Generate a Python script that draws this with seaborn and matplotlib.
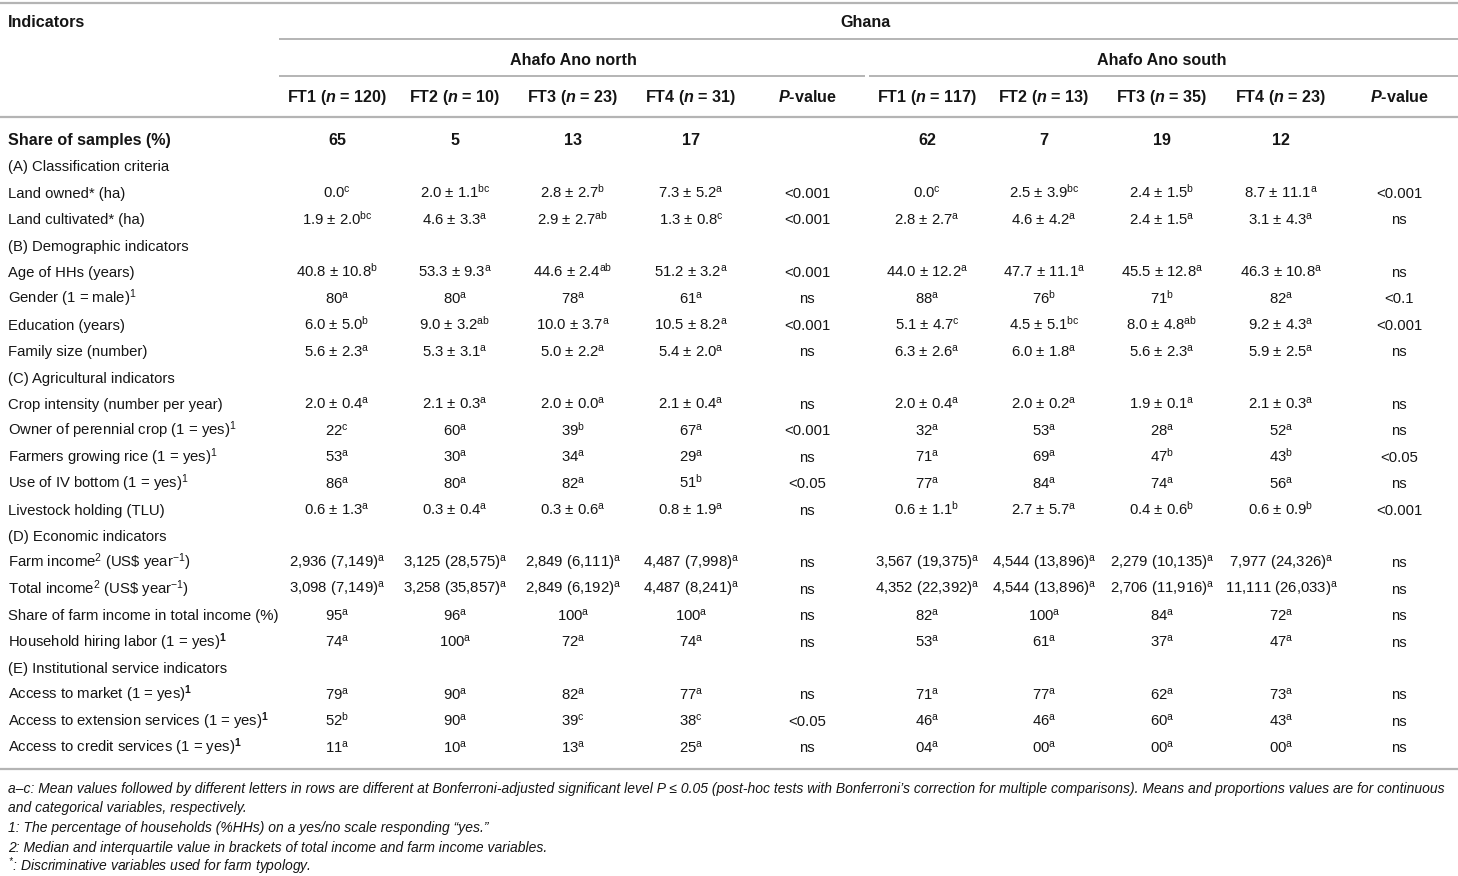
import matplotlib
matplotlib.use('Agg')
import matplotlib.pyplot as plt
import seaborn as sns

# Row labels of the table (mathtext is used for the superscripts)
indicators = [
    'Share of samples (%)',
    '(A) Classification criteria',
    'Land owned* (ha)',
    'Land cultivated* (ha)',
    '(B) Demographic indicators',
    'Age of HHs (years)',
    r'Gender (1 = male)$^{1}$',
    'Education (years)',
    'Family size (number)',
    '(C) Agricultural indicators',
    'Crop intensity (number per year)',
    r'Owner of perennial crop (1 = yes)$^{1}$',
    r'Farmers growing rice (1 = yes)$^{1}$',
    r'Use of IV bottom (1 = yes)$^{1}$',
    'Livestock holding (TLU)',
    '(D) Economic indicators',
    r'Farm income$^{2}$ (US\$ year$^{-1}$)',
    r'Total income$^{2}$ (US\$ year$^{-1}$)',
    'Share of farm income in total income (%)',
    r'Household hiring labor (1 = yes)$^{\mathbf{1}}$',
    '(E) Institutional service indicators',
    r'Access to market (1 = yes)$^{\mathbf{1}}$',
    r'Access to extension services (1 = yes)$^{\mathbf{1}}$',
    r'Access to credit services (1 = yes)$^{\mathbf{1}}$',
]
section_rows = [1, 4, 9, 15, 20]

country = 'Ghana'
districts = ['Ahafo Ano north', 'Ahafo Ano south']
north_headers = ['FT1 ($\\mathit{n}$ = 120)', 'FT2 ($\\mathit{n}$ = 10)',
                 'FT3 ($\\mathit{n}$ = 23)', 'FT4 ($\\mathit{n}$ = 31)', '$\\mathit{P}$-value']
south_headers = ['FT1 ($\\mathit{n}$ = 117)', 'FT2 ($\\mathit{n}$ = 13)',
                 'FT3 ($\\mathit{n}$ = 35)', 'FT4 ($\\mathit{n}$ = 23)', '$\\mathit{P}$-value']

# Ahafo Ano north
north_ft1 = ['65', '', '0.0', '1.9 ± 2.0', '', '40.8 ± 10.8', '80', '6.0 ± 5.0', '5.6 ± 2.3', '',
             '2.0 ± 0.4', '22', '53', '86', '0.6 ± 1.3', '', '2,936 (7,149)', '3,098 (7,149)', '95', '74',
             '', '79', '52', '11']
north_ft1_sig = ['', '', 'c', 'bc', '', 'b', 'a', 'b', 'a', '', 'a', 'c', 'a', 'a', 'a', '', 'a', 'a',
                 'a', 'a', '', 'a', 'b', 'a']
north_ft2 = ['5', '', '2.0 ± 1.1', '4.6 ± 3.3', '', '53.3 ± 9.3', '80', '9.0 ± 3.2', '5.3 ± 3.1', '',
             '2.1 ± 0.3', '60', '30', '80', '0.3 ± 0.4', '', '3,125 (28,575)', '3,258 (35,857)', '96', '100',
             '', '90', '90', '10']
north_ft2_sig = ['', '', 'bc', 'a', '', 'a', 'a', 'ab', 'a', '', 'a', 'a', 'a', 'a', 'a', '', 'a', 'a',
                 'a', 'a', '', 'a', 'a', 'a']
north_ft3 = ['13', '', '2.8 ± 2.7', '2.9 ± 2.7', '', '44.6 ± 2.4', '78', '10.0 ± 3.7', '5.0 ± 2.2', '',
             '2.0 ± 0.0', '39', '34', '82', '0.3 ± 0.6', '', '2,849 (6,111)', '2,849 (6,192)', '100', '72',
             '', '82', '39', '13']
north_ft3_sig = ['', '', 'b', 'ab', '', 'ab', 'a', 'a', 'a', '', 'a', 'b', 'a', 'a', 'a', '', 'a', 'a',
                 'a', 'a', '', 'a', 'c', 'a']
north_ft4 = ['17', '', '7.3 ± 5.2', '1.3 ± 0.8', '', '51.2 ± 3.2', '61', '10.5 ± 8.2', '5.4 ± 2.0', '',
             '2.1 ± 0.4', '67', '29', '51', '0.8 ± 1.9', '', '4,487 (7,998)', '4,487 (8,241)', '100', '74',
             '', '77', '38', '25']
north_ft4_sig = ['', '', 'a', 'c', '', 'a', 'a', 'a', 'a', '', 'a', 'a', 'a', 'b', 'a', '', 'a', 'a',
                 'a', 'a', '', 'a', 'c', 'a']
north_p = ['', '', '<0.001', '<0.001', '', '<0.001', 'ns', '<0.001', 'ns', '', 'ns', '<0.001', 'ns',
           '<0.05', 'ns', '', 'ns', 'ns', 'ns', 'ns', '', 'ns', '<0.05', 'ns']

# Ahafo Ano south
south_ft1 = ['62', '', '0.0', '2.8 ± 2.7', '', '44.0 ± 12.2', '88', '5.1 ± 4.7', '6.3 ± 2.6', '',
             '2.0 ± 0.4', '32', '71', '77', '0.6 ± 1.1', '', '3,567 (19,375)', '4,352 (22,392)', '82', '53',
             '', '71', '46', '04']
south_ft1_sig = ['', '', 'c', 'a', '', 'a', 'a', 'c', 'a', '', 'a', 'a', 'a', 'a', 'b', '', 'a', 'a',
                 'a', 'a', '', 'a', 'a', 'a']
south_ft2 = ['7', '', '2.5 ± 3.9', '4.6 ± 4.2', '', '47.7 ± 11.1', '76', '4.5 ± 5.1', '6.0 ± 1.8', '',
             '2.0 ± 0.2', '53', '69', '84', '2.7 ± 5.7', '', '4,544 (13,896)', '4,544 (13,896)', '100', '61',
             '', '77', '46', '00']
south_ft2_sig = ['', '', 'bc', 'a', '', 'a', 'b', 'bc', 'a', '', 'a', 'a', 'a', 'a', 'a', '', 'a', 'a',
                 'a', 'a', '', 'a', 'a', 'a']
south_ft3 = ['19', '', '2.4 ± 1.5', '2.4 ± 1.5', '', '45.5 ± 12.8', '71', '8.0 ± 4.8', '5.6 ± 2.3', '',
             '1.9 ± 0.1', '28', '47', '74', '0.4 ± 0.6', '', '2,279 (10,135)', '2,706 (11,916)', '84', '37',
             '', '62', '60', '00']
south_ft3_sig = ['', '', 'b', 'a', '', 'a', 'b', 'ab', 'a', '', 'a', 'a', 'b', 'a', 'b', '', 'a', 'a',
                 'a', 'a', '', 'a', 'a', 'a']
south_ft4 = ['12', '', '8.7 ± 11.1', '3.1 ± 4.3', '', '46.3 ± 10.8', '82', '9.2 ± 4.3', '5.9 ± 2.5', '',
             '2.1 ± 0.3', '52', '43', '56', '0.6 ± 0.9', '', '7,977 (24,326)', '11,111 (26,033)', '72', '47',
             '', '73', '43', '00']
south_ft4_sig = ['', '', 'a', 'a', '', 'a', 'a', 'a', 'a', '', 'a', 'a', 'b', 'a', 'b', '', 'a', 'a',
                 'a', 'a', '', 'a', 'a', 'a']
south_p = ['', '', '<0.001', 'ns', '', 'ns', '<0.1', '<0.001', 'ns', '', 'ns', 'ns', '<0.05', 'ns',
           '<0.001', '', 'ns', 'ns', 'ns', 'ns', '', 'ns', 'ns', 'ns']

footnotes = [
    'a–c: Mean values followed by different letters in rows are different at Bonferroni-adjusted '
    'significant level P ≤ 0.05 (post-hoc tests with Bonferroni’s correction for multiple comparisons). '
    'Means and proportions values are for continuous',
    'and categorical variables, respectively.',
    '1: The percentage of households (%HHs) on a yes/no scale responding “yes.”',
    '2: Median and interquartile value in brackets of total income and farm income variables.',
    r'$^{*}$: Discriminative variables used for farm typology.',
]

sns.set_style('white')
plt.rcParams['font.family'] = ['Liberation Sans', 'DejaVu Sans']
plt.rcParams['mathtext.fontset'] = 'custom'
plt.rcParams['mathtext.default'] = 'regular'
plt.rcParams['mathtext.rm'] = 'Liberation Sans'
plt.rcParams['mathtext.bf'] = 'Liberation Sans:bold'
plt.rcParams['mathtext.it'] = 'Liberation Sans:italic:bold'

ink = '#151515'
rule = '#b4b4b4'
body_size = 10.7
head_size = 11.6

fig = plt.figure(figsize=(14.58, 8.76), dpi=100)
ax = fig.add_axes([0, 0, 1, 1])
ax.set_xlim(0, 1458)
ax.set_ylim(876, 0)
ax.axis('off')

# horizontal rules
ax.hlines(3, 0, 1458, color=rule, lw=1.6)
ax.hlines(39, 279, 1458, color=rule, lw=1.4)
ax.hlines(76, 279, 865, color=rule, lw=1.4)
ax.hlines(76, 869, 1458, color=rule, lw=1.4)
ax.hlines(117, 0, 1458, color=rule, lw=1.6)
ax.hlines(769, 0, 1458, color=rule, lw=1.6)

north_x = [337, 455, 573, 691, 807]
south_x = [927, 1044, 1162, 1281, 1399]
base = 5  # offset from text centre to baseline

# header
ax.text(8, 22 + base, 'Indicators', fontsize=head_size, fontweight='bold', color=ink, va='baseline')
ax.text(866, 22 + base, country, fontsize=head_size, fontweight='bold', color=ink, ha='center', va='baseline')
ax.text(573, 60 + base, districts[0], fontsize=head_size, fontweight='bold', color=ink, ha='center', va='baseline')
ax.text(1162, 60 + base, districts[1], fontsize=head_size, fontweight='bold', color=ink, ha='center', va='baseline')
for x, h in zip(north_x + south_x, north_headers + south_headers):
    ax.text(x, 97 + base, h, fontsize=head_size, fontweight='bold', color=ink, ha='center', va='baseline')

north_cols = [(north_ft1, north_ft1_sig), (north_ft2, north_ft2_sig),
              (north_ft3, north_ft3_sig), (north_ft4, north_ft4_sig)]
south_cols = [(south_ft1, south_ft1_sig), (south_ft2, south_ft2_sig),
              (south_ft3, south_ft3_sig), (south_ft4, south_ft4_sig)]

row_h = 26.4
for i, label in enumerate(indicators):
    y = 140 + i * row_h + base
    weight = 'bold' if i == 0 else 'normal'
    size = head_size if i == 0 else body_size
    ax.text(8, y, label, fontsize=size, fontweight=weight, color=ink, va='baseline')
    if i in section_rows:
        continue
    for xs, cols, pvals in [(north_x, north_cols, north_p), (south_x, south_cols, south_p)]:
        for x, (vals, sig) in zip(xs[:4], cols):
            txt = vals[i]
            if sig[i]:
                txt = txt + '$^{' + sig[i] + '}$'
            ax.text(x, y, txt, fontsize=size, fontweight=weight, color=ink, ha='center', va='baseline')
        ax.text(xs[4], y, pvals[i], fontsize=body_size, color=ink, ha='center', va='baseline')

# footnotes
for j, note in enumerate(footnotes):
    ax.text(8, 788 + j * 19.7 + 4.5, note, fontsize=10.0, style='italic', color=ink, va='baseline')

fig.savefig('out.png', dpi=100, facecolor='white')
